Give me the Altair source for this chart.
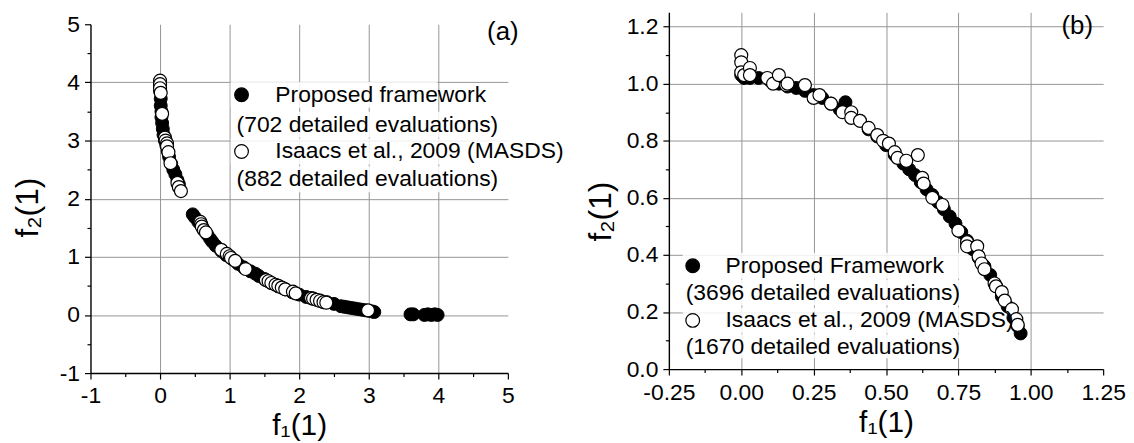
import altair as alt
import pandas as pd

FONT = "Liberation Sans"

# ---------------- Panel (a) data ----------------
a_prop_x = [0.0, 0.0, 0.0, 0.01, 0.01, 0.02, 0.02, 0.03, 0.04, 0.05, 0.07, 0.09, 0.11, 0.13, 0.16, 0.19,
            0.22, 0.25, 0.27, 0.47, 0.5, 0.55, 0.62, 0.68, 0.72, 0.75, 0.8, 0.88, 0.95, 1.05, 1.12, 1.2,
            1.3, 1.37, 1.42, 1.5, 1.6, 1.7, 1.8, 1.9, 2.0, 2.1, 2.2, 2.3, 2.4, 2.5, 2.6, 2.65, 2.7, 2.75,
            2.8, 2.85, 2.9, 2.95, 3.0, 3.05, 3.08, 3.6, 3.64, 3.8, 3.85, 3.9, 3.95, 3.99]
a_prop_y = [4.02, 3.95, 3.85, 3.72, 3.6, 3.5, 3.4, 3.3, 3.2, 3.1, 3.0, 2.92, 2.82, 2.72, 2.6, 2.5,
            2.42, 2.32, 2.25, 1.73, 1.68, 1.6, 1.48, 1.38, 1.31, 1.26, 1.19, 1.1, 1.03, 0.95, 0.88, 0.82,
            0.75, 0.71, 0.67, 0.62, 0.55, 0.49, 0.44, 0.39, 0.35, 0.31, 0.28, 0.25, 0.22, 0.19, 0.15, 0.14,
            0.13, 0.12, 0.11, 0.1, 0.09, 0.08, 0.07, 0.06, 0.05, 0.01, 0.01, 0.0, 0.01, 0.0, 0.01, 0.0]
a_isaacs_x = [0.0, 0.0, 0.0, 0.01, 0.03, 0.07, 0.08, 0.1, 0.1, 0.12, 0.15, 0.25, 0.27, 0.3, 0.58, 0.59,
              0.6, 0.63, 0.66, 0.88, 0.96, 1.0, 1.02, 1.08, 1.23, 1.52, 1.56, 1.6, 1.66, 1.7, 1.75, 1.8,
              1.91, 1.95, 2.17, 2.2, 2.25, 2.3, 2.35, 2.39, 2.99]
a_isaacs_y = [4.03, 3.97, 3.9, 3.82, 3.46, 3.05, 3.0, 2.95, 2.9, 2.8, 2.61, 2.27, 2.2, 2.13, 1.6, 1.56,
              1.52, 1.46, 1.42, 1.12, 1.05, 1.01, 0.98, 0.93, 0.79, 0.6, 0.58, 0.55, 0.52, 0.5, 0.47, 0.44,
              0.4, 0.37, 0.29, 0.28, 0.26, 0.24, 0.22, 0.21, 0.08]

# ---------------- Panel (b) data ----------------
b_prop_x = [0.0, 0.01, 0.03, 0.06, 0.1, 0.13, 0.16, 0.19, 0.22, 0.25, 0.28, 0.31, 0.34, 0.36, 0.38, 0.41,
            0.44, 0.47, 0.5, 0.53, 0.56, 0.58, 0.6, 0.62, 0.64, 0.66, 0.68, 0.7, 0.72, 0.74, 0.76, 0.78,
            0.8, 0.82, 0.84, 0.86, 0.88, 0.9, 0.92, 0.94, 0.955, 0.965]
b_prop_y = [1.03, 1.02, 1.02, 1.02, 1.01, 1.0, 0.99, 0.985, 0.975, 0.96, 0.95, 0.93, 0.91, 0.935, 0.89, 0.87,
            0.84, 0.815, 0.785, 0.75, 0.72, 0.7, 0.68, 0.655, 0.63, 0.61, 0.585, 0.56, 0.535, 0.51, 0.48, 0.45,
            0.42, 0.39, 0.36, 0.33, 0.29, 0.255, 0.22, 0.18, 0.15, 0.125]
b_isaacs_x = [0.0, 0.0, 0.0, 0.01, 0.03, 0.03, 0.09, 0.11, 0.13, 0.155, 0.16, 0.22, 0.25, 0.27, 0.31, 0.35,
              0.38, 0.38, 0.41, 0.44, 0.47, 0.49, 0.51, 0.53, 0.54, 0.57, 0.61, 0.625, 0.63, 0.66, 0.695, 0.75,
              0.78, 0.78, 0.815, 0.82, 0.83, 0.84, 0.875, 0.88, 0.9, 0.91, 0.935, 0.95, 0.955]
b_isaacs_y = [1.10, 1.075, 1.04, 1.03, 1.055, 1.03, 1.02, 1.0, 1.03, 0.995, 1.0, 0.995, 0.95, 0.96, 0.93, 0.9,
              0.9, 0.88, 0.87, 0.845, 0.82, 0.8, 0.79, 0.76, 0.74, 0.73, 0.75, 0.67, 0.65, 0.6, 0.575, 0.485,
              0.445, 0.43, 0.43, 0.395, 0.37, 0.35, 0.3, 0.29, 0.27, 0.24, 0.21, 0.175, 0.155]

# ---------------- Ticks ----------------
a_ticks = [-1, -0.5, 0, 0.5, 1, 1.5, 2, 2.5, 3, 3.5, 4, 4.5, 5]
b_x_ticks = [-0.25, -0.125, 0, 0.125, 0.25, 0.375, 0.5, 0.625, 0.75, 0.875, 1.0, 1.125, 1.25]
b_y_ticks = [0.0, 0.1, 0.2, 0.3, 0.4, 0.5, 0.6, 0.7, 0.8, 0.9, 1.0, 1.1, 1.2]

legend_a = ["Proposed framework", "(702 detailed evaluations)",
            "Isaacs et al., 2009 (MASDS)", "(882 detailed evaluations)"]
legend_b = ["Proposed Framework", "(3696 detailed evaluations)",
            "Isaacs et al., 2009 (MASDS)", "(1670 detailed evaluations)"]


def make_axis(values, major, grid_test, fmt, title, title_padding, label_padding, title_y=None, title_size=32):
    label_expr = ("(%s) ? (datum.value < 0 ? '-' + format(-datum.value, '%s') : format(datum.value, '%s')) : ''"
                  % (major, fmt, fmt))
    kw = dict(
        values=values, title=title, labelExpr=label_expr, grid=True,
        gridColor="#959595", gridWidth=1,
        gridOpacity={"condition": {"test": grid_test, "value": 1}, "value": 0},
        tickSize={"condition": {"test": major, "value": 6}, "value": 3.5},
        tickColor="black", tickWidth=1.2, domainColor="black", domainWidth=1.4,
        labelFont=FONT, labelFontSize=23, labelColor="black", labelPadding=label_padding,
        labelOverlap=False, labelFlush=False,
        titleFont=FONT, titleFontSize=title_size, titleFontWeight="normal", titleColor="black",
        titlePadding=title_padding,
    )
    if title_y is not None:
        kw["titleY"] = title_y
    return alt.Axis(**kw)


def text_mark(txt, x, y, size=23, align="left"):
    return alt.Chart(pd.DataFrame({"t": [txt]})).mark_text(
        align=align, baseline="middle", font=FONT, fontSize=size, color="black"
    ).encode(x=alt.value(x), y=alt.value(y), text="t:N")


def marker(x, y, fill):
    return alt.Chart(pd.DataFrame({"k": [0]})).mark_point(
        shape="circle", filled=True, size=190, fill=fill, stroke="black", strokeWidth=1.2, opacity=1
    ).encode(x=alt.value(x), y=alt.value(y))


def box(x1, x2, y1, y2):
    return alt.Chart(pd.DataFrame({"k": [0]})).mark_rect(color="white", opacity=0.85).encode(
        x=alt.value(x1), x2=alt.value(x2), y=alt.value(y1), y2=alt.value(y2))


def panel(px, py, ox, oy, xscale, yscale, xaxis, yaxis, w, h, extras):
    prop = pd.DataFrame({"x": px, "y": py})
    isa = pd.DataFrame({"x": ox, "y": oy})
    enc = dict(x=alt.X("x:Q", scale=xscale, axis=xaxis), y=alt.Y("y:Q", scale=yscale, axis=yaxis))
    black = alt.Chart(prop).mark_circle(size=170, color="black", stroke="black",
                                        strokeWidth=1, opacity=1).encode(**enc)
    white = alt.Chart(isa).mark_circle(size=170, fill="white", stroke="black",
                                       strokeWidth=1.2, opacity=1).encode(**enc)
    boxes, tops = extras
    return alt.layer(*boxes, black, white, *tops).properties(width=w, height=h)


# ----- panel (a)
a_major = "datum.value % 1 === 0"
a_grid = "datum.value % 1 === 0 && datum.value > -1 && datum.value < 5"
ax_a = make_axis(a_ticks, a_major, a_grid, "d", "f\u2081(1)", 3, 6, title_size=30)
ay_a = make_axis(a_ticks, a_major, a_grid, "d", "f\u2082(1)", 15, 5, 184)
boxes_a = [box(141, 349, 58, 84), box(145, 411, 88, 114), box(141, 478, 115, 141), box(145, 411, 143, 169)]
tops_a = [marker(152, 71, "black"), text_mark(legend_a[0], 186, 71), text_mark(legend_a[1], 147, 101),
          marker(152, 128, "white"), text_mark(legend_a[2], 186, 128), text_mark(legend_a[3], 147, 156),
          text_mark("(a)", 415, 8, size=26, align="center")]
chart_a = panel(a_prop_x, a_prop_y, a_isaacs_x, a_isaacs_y,
                alt.Scale(domain=[-1, 5], nice=False, zero=False),
                alt.Scale(domain=[-1, 5], nice=False, zero=False),
                ax_a, ay_a, 420, 351, (boxes_a, tops_a))

# spacer that drops panel (a) slightly below panel (b), as in the original figure
spacer = alt.Chart(pd.DataFrame({"k": [0]})).mark_point(opacity=0, size=1).encode(
    x=alt.value(0), y=alt.value(0)).properties(width=1, height=1)
col_a = alt.vconcat(spacer, chart_a, spacing=0)

# ----- panel (b)
bx_major = "abs(datum.value * 4 - round(datum.value * 4)) < 0.001"
bx_grid = bx_major + " && datum.value > -0.2 && datum.value < 1.2"
by_major = "abs(datum.value * 5 - round(datum.value * 5)) < 0.001"
by_grid = by_major + " && datum.value > 0.05 && datum.value < 1.24"
ax_b = make_axis(b_x_ticks, bx_major, bx_grid, ".2f", "f\u2081(1)", 3, 7, title_size=30)
ay_b = make_axis(b_y_ticks, by_major, by_grid, ".1f", "f\u2082(1)", 9, 5, 200)
boxes_b = [box(14, 309, 242, 268), box(14, 296, 269, 295), box(14, 342, 297, 323), box(14, 296, 324, 348)]
tops_b = [marker(24, 255, "black"), text_mark(legend_b[0], 57, 255), text_mark(legend_b[1], 17, 282),
          marker(24, 310, "white"), text_mark(legend_b[2], 57, 310), text_mark(legend_b[3], 17, 337),
          text_mark("(b)", 411, 14, size=26, align="center")]
chart_b = panel(b_prop_x, b_prop_y, b_isaacs_x, b_isaacs_y,
                alt.Scale(domain=[-0.25, 1.25], nice=False, zero=False),
                alt.Scale(domain=[0, 1.25], nice=False, zero=False),
                ax_b, ay_b, 437, 359, (boxes_b, tops_b))

chart = alt.hconcat(col_a, chart_b, spacing=19).properties(
    padding={"left": 3, "top": 2, "right": 0, "bottom": 0},
    background="white",
).configure_view(stroke=None)

chart.save("out.html", embed_options={"renderer": "svg", "actions": False})
